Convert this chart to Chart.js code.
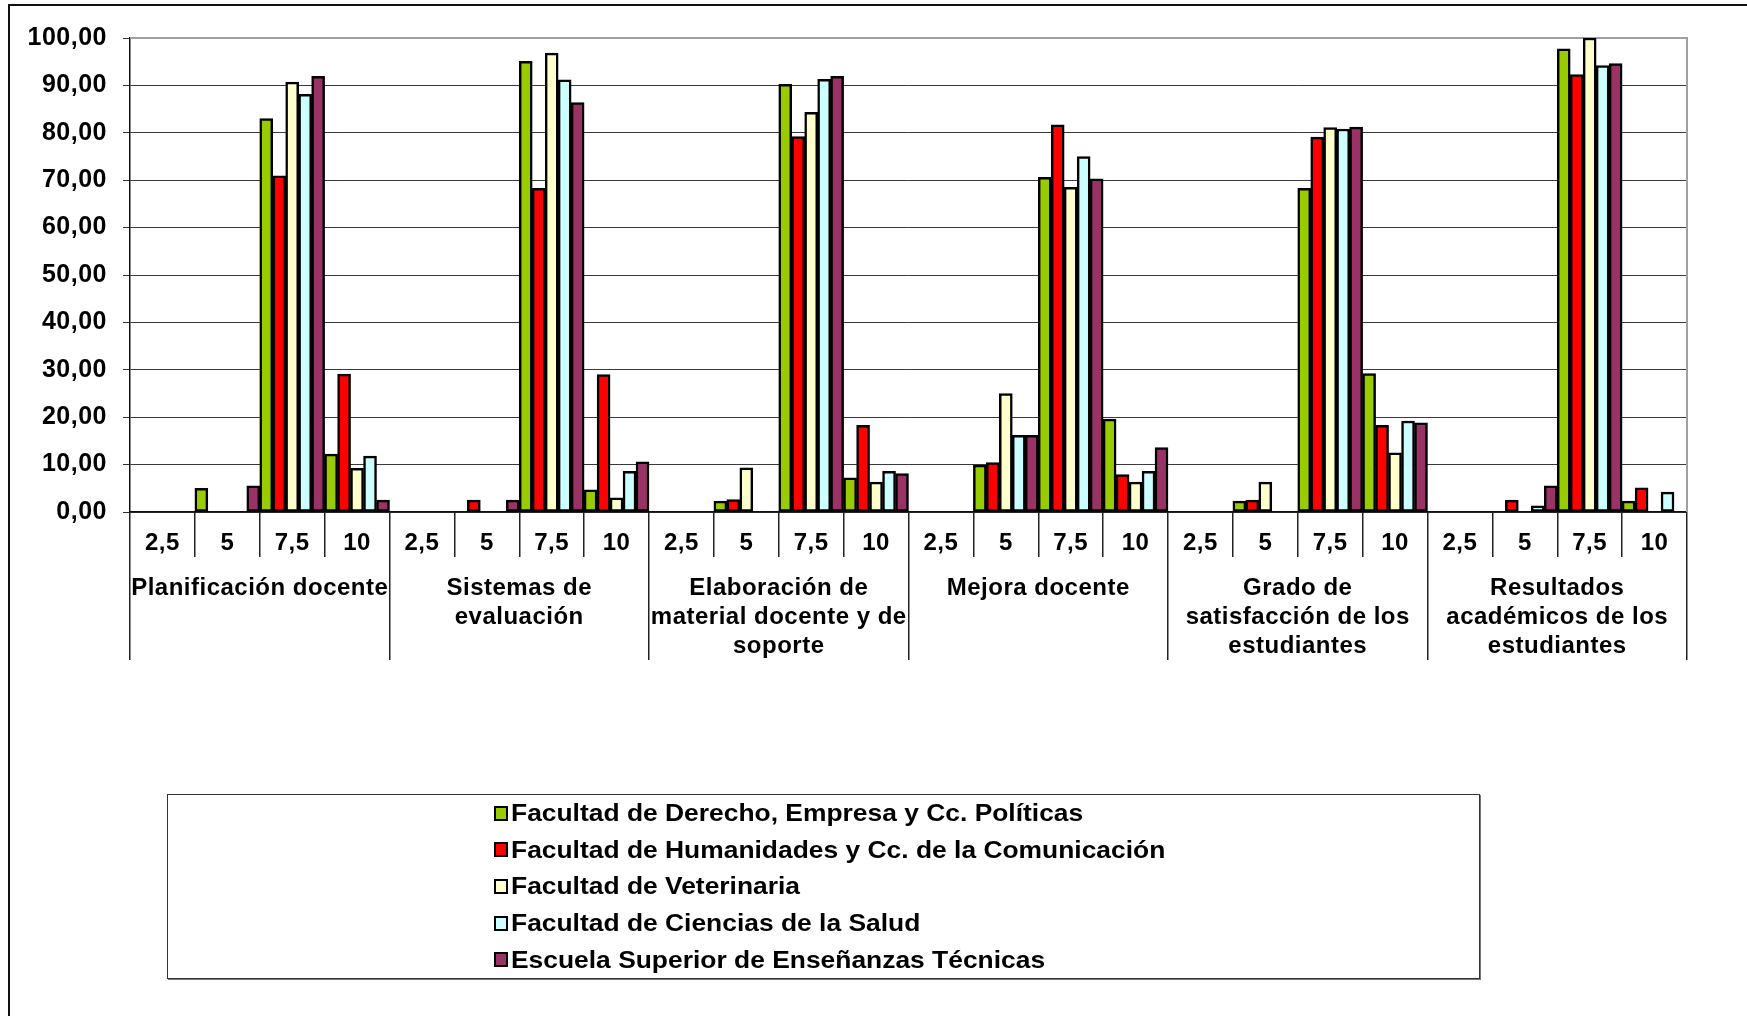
<!DOCTYPE html>
<html>
<head>
<meta charset="utf-8">
<script src="https://cdn.jsdelivr.net/npm/chart.js@4"></script>
<style>
  html, body { margin: 0; padding: 0; background: #fff; }
  #wrap { position: relative; width: 1747px; height: 1016px; overflow: hidden; }
  #frame { position: absolute; left: 8px; top: 4px; width: 2000px; height: 2000px;
           border-left: 2px solid #111; border-top: 2px solid #111; }
  canvas { position: absolute; left: 0; top: 0; }
  #legend { position: absolute; left: 167px; top: 794px; width: 1311px; height: 183px;
            border: 1.5px solid #333; box-shadow: 1px 1px 0 #777; background: #fff;
            font: bold 24px "Liberation Sans", Arial, sans-serif; color: #000; }
  #legend .item { position: absolute; left: 326px; height: 36.6px; display: flex; align-items: center; white-space: nowrap; }
  #legend .box { width: 10px; height: 11px; border: 2px solid #000; margin-right: 3px; }
  #legend .txt { display: inline-block; transform: scaleX(1.1); transform-origin: left center; }
</style>
</head>
<body>
<div id="wrap">
  <div id="frame"></div>
  <canvas id="grafico" width="1747" height="1016"></canvas>
  <div id="legend"></div>
</div>
<script>
// tick labels (nota) and the six blocks
const notas = ["2,5", "5", "7,5", "10"];
const bloques = [
    ["Planificación docente"],
    ["Sistemas de", "evaluación"],
    ["Elaboración de", "material docente y de", "soporte"],
    ["Mejora docente"],
    ["Grado de", "satisfacción de los", "estudiantes"],
    ["Resultados", "académicos de los", "estudiantes"]
];
const categorias = bloques.flatMap(() => notas);

// percentages per block, in order 2,5 / 5 / 7,5 / 10 (null = no bar)
const derecho = [
    null, 5.0, 83.0, 12.2,
    null, null, 95.1, 4.7,
    null, 2.3, 90.2, 7.2,
    null, 9.9, 70.6, 19.6,
    null, 2.3, 68.3, 29.2,
    null, null, 97.7, 2.3
];
const humanidades = [
    null, null, 70.9, 29.1,
    null, 2.5, 68.3, 29.0,
    null, 2.6, 79.2, 18.3,
    null, 10.4, 81.7, 7.9,
    null, 2.5, 79.1, 18.3,
    null, 2.5, 92.3, 5.1
];
const veterinaria = [
    null, null, 90.7, 9.2,
    null, null, 96.8, 3.0,
    null, 9.3, 84.3, 6.3,
    null, 25.0, 68.5, 6.3,
    null, 6.3, 81.1, 12.5,
    null, null, 100.0, null
];
const salud = [
    null, null, 88.1, 11.8,
    null, null, 91.2, 8.6,
    null, null, 91.3, 8.6,
    null, 16.2, 75.0, 8.6,
    null, null, 80.8, 19.2,
    null, 1.3, 94.2, 4.2
];
const eset = [
    null, 5.5, 91.9, 2.5,
    null, 2.5, 86.4, 10.6,
    null, null, 91.9, 8.1,
    null, 16.2, 70.3, 13.6,
    null, null, 81.2, 18.8,
    null, 5.5, 94.6, null
];

const series = [
    { label: "Facultad de Derecho, Empresa y Cc. Políticas", data: derecho, color: "#99cc00" },
    { label: "Facultad de Humanidades y Cc. de la Comunicación", data: humanidades, color: "#ff0000" },
    { label: "Facultad de Veterinaria", data: veterinaria, color: "#ffffcc" },
    { label: "Facultad de Ciencias de la Salud", data: salud, color: "#ccffff" },
    { label: "Escuela Superior de Enseñanzas Técnicas", data: eset, color: "#993366" }
];

const fuente = { family: "'Liberation Sans', Arial, sans-serif", size: 24, weight: "bold", lineHeight: 1.2 };

// gray frame round the plot area, and a touch of letter spacing for the wide original text
const marcoPlot = {
    id: "marcoPlot",
    beforeDraw(chart) {
        chart.ctx.letterSpacing = "0.5px";
    },
    beforeDatasetsDraw(chart) {
        const { ctx, chartArea: a } = chart;
        ctx.save();
        ctx.strokeStyle = "#a0a0a0";
        ctx.lineWidth = 2;
        ctx.beginPath();
        ctx.moveTo(a.left, a.top);
        ctx.lineTo(a.right, a.top);
        ctx.lineTo(a.right, a.bottom);
        ctx.stroke();
        ctx.restore();
    }
};

const chart = new Chart(document.getElementById("grafico"), {
    type: "bar",
    data: {
        labels: categorias,
        datasets: series.map((s) => ({
            label: s.label,
            data: s.data,
            backgroundColor: s.color,
            borderColor: "#000",
            borderWidth: 2.5,
            borderSkipped: false,
            categoryPercentage: 1,
            barPercentage: 1
        }))
    },
    options: {
        responsive: false,
        animation: false,
        layout: { padding: { left: 0, top: 38, right: 60, bottom: 356 } },
        plugins: { legend: { display: false }, tooltip: { enabled: false } },
        scales: {
            y: {
                min: 0,
                max: 100,
                afterFit: (s) => { s.width = 130; },
                ticks: {
                    stepSize: 10,
                    color: "#000",
                    font: { ...fuente, size: 25 },
                    padding: 16,
                    callback: (v) => v.toFixed(2).replace(".", ",")
                },
                grid: { color: "#3a3a3a", lineWidth: 1, tickLength: 7, tickColor: "#333" },
                border: { color: "#111", width: 1.5 }
            },
            x: {
                weight: 0,
                afterFit: (s) => { s.height = 45; },
                ticks: { color: "#000", font: fuente, padding: -28, autoSkip: false, maxRotation: 0 },
                grid: { drawOnChartArea: false, offset: true, tickLength: 45, color: "#222", lineWidth: 1.5 },
                border: { color: "#111", width: 1.5 }
            },
            x2: {
                type: "category",
                position: "bottom",
                weight: 1,
                labels: bloques,
                offset: true,
                afterFit: (s) => { s.height = 103; },
                ticks: { color: "#000", font: fuente, padding: -86, autoSkip: false, maxRotation: 0 },
                grid: { drawOnChartArea: false, offset: true, tickLength: 103, color: "#222", lineWidth: 1.5 },
                border: { display: false }
            }
        }
    },
    plugins: [marcoPlot]
});

// legend as a fixed column, like the original
const leyenda = document.getElementById("legend");
chart.data.datasets.forEach((ds, i) => {
    const fila = document.createElement("div");
    fila.className = "item";
    fila.style.top = (i * 36.6) + "px";
    fila.innerHTML = `<span class="box" style="background:${ds.backgroundColor}"></span><span class="txt">${ds.label}</span>`;
    leyenda.appendChild(fila);
});
</script>
</body>
</html>
